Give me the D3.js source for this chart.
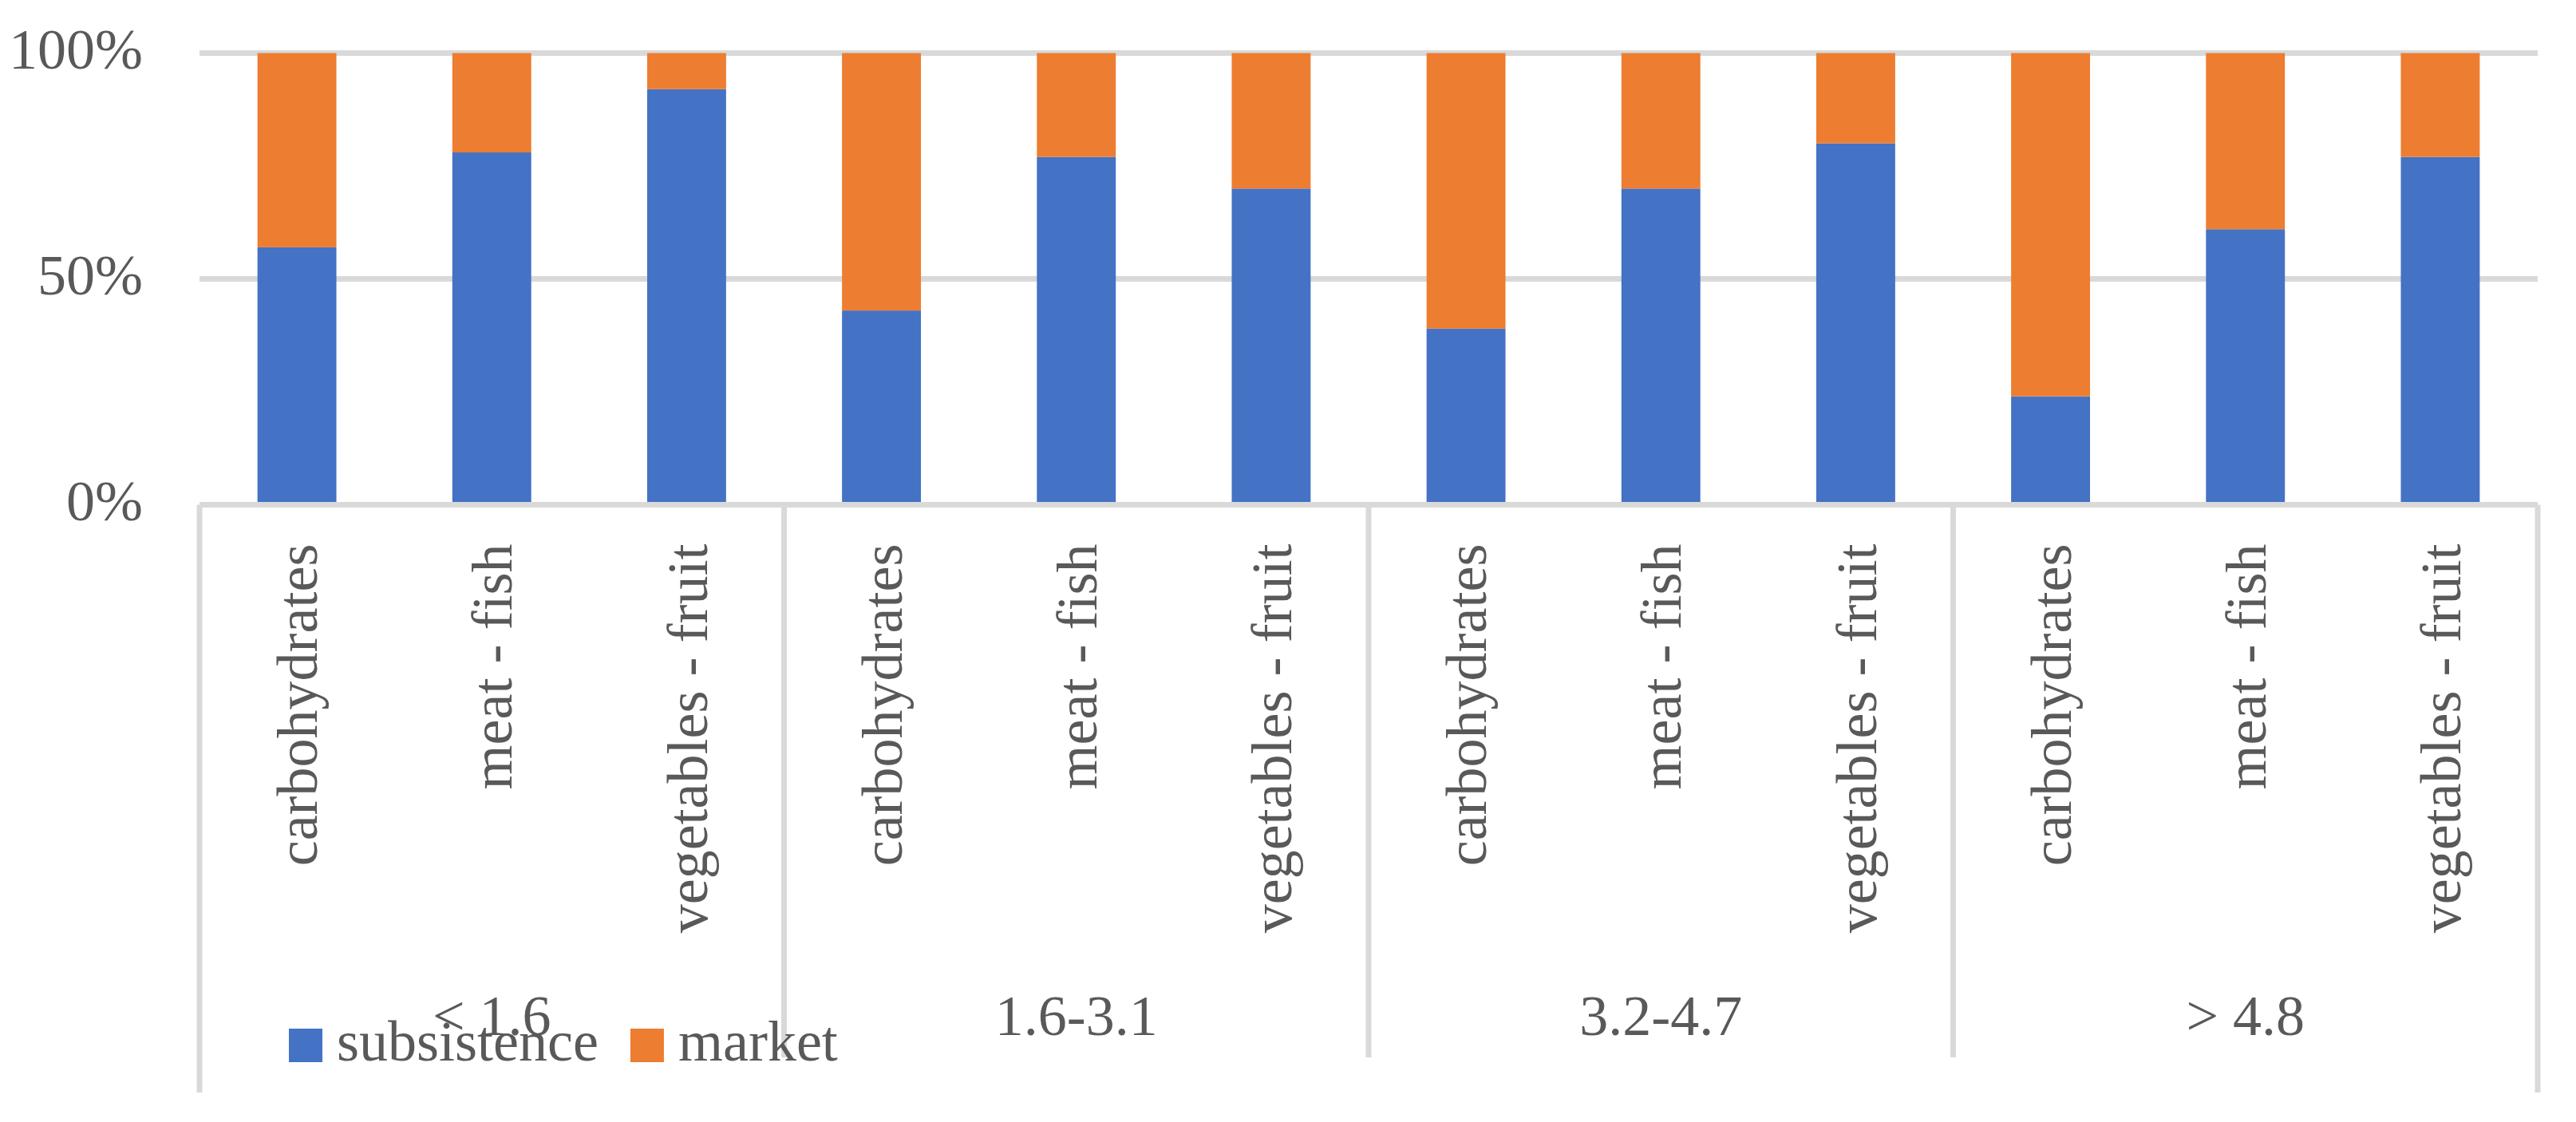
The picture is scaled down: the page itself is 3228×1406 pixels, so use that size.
<!DOCTYPE html>
<html>
<head>
<meta charset="utf-8">
<script src="https://cdn.jsdelivr.net/npm/d3@7"></script>
<style>
  html, body { margin: 0; padding: 0; background: #ffffff; }
  svg { display: block; }
  text { font-family: "Palatino Linotype", "Book Antiqua", Palatino, "Liberation Serif", serif; fill: #595959; }
</style>
</head>
<body>
<svg id="chart" width="3228" height="1406"></svg>
<script>
// ---- data ----
const groups = ["< 1.6", "1.6-3.1", "3.2-4.7", "> 4.8"];
const foods = ["carbohydrates", "meat - fish", "vegetables - fruit"];
const seriesNames = ["subsistence", "market"];
const subsistence = [57, 78, 92, 43, 77, 70, 39, 70, 80, 24, 61, 77];
const market = [43, 22, 8, 57, 23, 30, 61, 30, 20, 76, 39, 23];
const yTicks = [0, 50, 100];
const colors = ["#4472C4", "#ED7D31"];

(function () {
// ---- build rows ----
const rows = [];
groups.forEach((g, gi) => foods.forEach((f, fi) => {
  const i = gi * foods.length + fi;
  rows.push({ idx: i, group: g, food: f, subsistence: subsistence[i], market: market[i] });
}));

const svg = d3.select("#chart");
svg.append("rect").attr("width", 3228).attr("height", 1406).attr("fill", "#ffffff");

const plotLeft = 250, plotRight = 3180, plotTop = 66.5, plotBottom = 632.5;
const fontSize = 72;
const gridColor = "#d9d9d9";

const x = d3.scaleBand().domain(rows.map(d => d.idx)).range([plotLeft, plotRight]).padding(0);
const y = d3.scaleLinear().domain([0, 100]).range([plotBottom, plotTop]);
const barW = x.bandwidth() * 0.405;

// gridlines
svg.append("g").selectAll("line").data(yTicks.filter(t => t > 0)).join("line")
  .attr("x1", plotLeft).attr("x2", plotRight)
  .attr("y1", d => y(d)).attr("y2", d => y(d))
  .attr("stroke", gridColor).attr("stroke-width", 7);

// y axis labels
const yAxis = svg.append("g").attr("transform", `translate(${plotLeft},0)`)
  .call(d3.axisLeft(y).tickValues(yTicks).tickFormat(d => d + "%").tickSize(0).tickPadding(71));
yAxis.select(".domain").remove();
yAxis.selectAll("text").attr("font-size", fontSize).attr("dy", "0.27em")
  .attr("font-family", null).attr("fill", "#595959");

// stacked bars
const stack = d3.stack().keys(seriesNames)(rows);
svg.append("g").selectAll("g").data(stack).join("g")
  .attr("fill", (d, i) => colors[i])
  .selectAll("rect").data(d => d).join("rect")
  .attr("x", d => x(d.data.idx) + (x.bandwidth() - barW) / 2)
  .attr("width", barW)
  .attr("y", d => y(d[1]))
  .attr("height", d => y(d[0]) - y(d[1]));

// category axis line
svg.append("line").attr("x1", plotLeft).attr("x2", plotRight)
  .attr("y1", y(0)).attr("y2", y(0))
  .attr("stroke", gridColor).attr("stroke-width", 7);

// group separators
const bounds = groups.map((g, gi) => x(gi * foods.length)).concat([plotRight]);
svg.append("g").selectAll("line").data(bounds).join("line")
  .attr("x1", d => d).attr("x2", d => d)
  .attr("y1", y(0))
  .attr("y2", (d, i) => (i === 0 || i === bounds.length - 1) ? 1369 : 1325)
  .attr("stroke", gridColor).attr("stroke-width", 7);

// rotated category labels
const xAxis = svg.append("g").attr("transform", `translate(0,${y(0)})`)
  .call(d3.axisBottom(x).tickSize(0).tickFormat(i => rows[i].food));
xAxis.select(".domain").remove();
xAxis.selectAll("text")
  .attr("font-size", fontSize).attr("font-family", null).attr("fill", "#595959")
  .attr("transform", "rotate(-90)")
  .attr("x", -49).attr("y", 0).attr("dy", "0.35em")
  .attr("text-anchor", "end");

// group labels
svg.append("g").selectAll("text").data(groups).join("text")
  .attr("x", (g, gi) => (bounds[gi] + bounds[gi + 1]) / 2)
  .attr("y", 1297)
  .attr("text-anchor", "middle")
  .attr("font-size", fontSize)
  .text(d => d);

// legend
const legend = svg.append("g");
let lx = 362;
seriesNames.forEach((name, i) => {
  legend.append("rect").attr("x", lx).attr("y", 1289).attr("width", 42).attr("height", 42).attr("fill", colors[i]);
  const t = legend.append("text").attr("x", lx + 60).attr("y", 1329).attr("font-size", fontSize).text(name);
  lx = lx + 60 + t.node().getComputedTextLength() + 40;
});
})();
</script>
</body>
</html>
